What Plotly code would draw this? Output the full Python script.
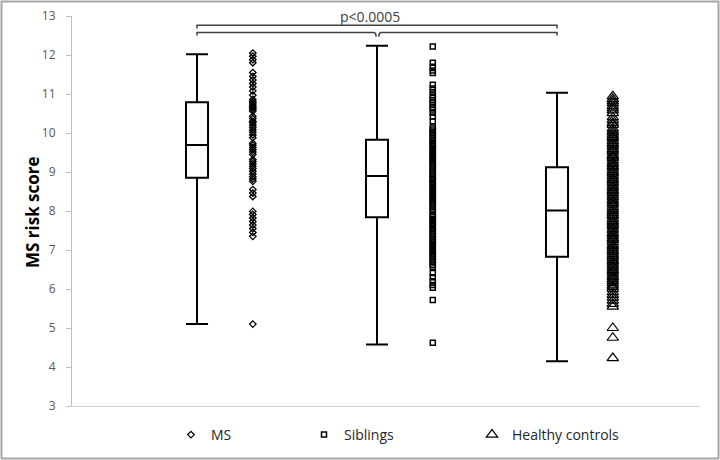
import plotly.graph_objects as go

# ---------------- data ----------------
groups = ["MS", "Siblings", "Healthy controls"]
whisker_high = [12.02, 12.24, 11.03]
q3_vals = [10.79, 9.83, 9.12]
median_vals = [9.69, 8.90, 8.01]
q1_vals = [8.85, 7.84, 6.83]
whisker_low = [5.10, 4.58, 4.15]

ms_scores = [12.05, 11.97, 11.88, 11.8, 11.55, 11.45, 11.36, 11.27, 11.18, 11.08,
             10.97, 10.86, 10.81, 10.77, 10.72, 10.68, 10.64, 10.6, 10.56, 10.43,
             10.37, 10.3, 10.26, 10.2, 10.14, 10.08, 10.02, 9.95, 9.88, 9.74,
             9.69, 9.63, 9.57, 9.51, 9.45, 9.32, 9.27, 9.21, 9.15, 9.09,
             9.02, 8.95, 8.88, 8.82, 8.76, 8.55, 8.46, 8.37, 7.99, 7.91,
             7.82, 7.73, 7.64, 7.55, 7.45, 7.35, 5.1]

sibling_scores = [12.22, 11.8, 11.7, 11.6, 11.54, 11.24, 11.14, 11.05, 10.97, 10.9,
                  10.84, 10.78, 10.72, 10.66, 10.6, 10.52, 10.42, 10.3, 10.14, 10.09,
                  10.04, 9.99, 9.94, 9.88, 9.83, 9.78, 9.72, 9.67, 9.62, 9.57,
                  9.51, 9.46, 9.41, 9.35, 9.3, 9.25, 9.2, 9.14, 9.09, 9.04,
                  8.99, 8.93, 8.88, 8.83, 8.78, 8.72, 8.67, 8.62, 8.57, 8.51,
                  8.46, 8.41, 8.35, 8.3, 8.25, 8.2, 8.14, 8.09, 8.04, 7.99,
                  7.9, 7.85, 7.8, 7.74, 7.69, 7.64, 7.58, 7.53, 7.48, 7.42,
                  7.37, 7.32, 7.26, 7.21, 7.16, 7.1, 7.05, 7.0, 6.94, 6.89,
                  6.84, 6.78, 6.73, 6.68, 6.62, 6.57, 6.41, 6.3, 6.2, 6.1,
                  6.03, 5.72, 4.62]

healthy_scores = [10.94, 10.87, 10.81, 10.76, 10.69, 10.63, 10.58, 10.51, 10.4, 10.33,
                  10.26, 10.21, 10.12, 10.06, 10.01, 9.95, 9.9, 9.86, 9.8, 9.74,
                  9.7, 9.65, 9.59, 9.55, 9.5, 9.44, 9.4, 9.36, 9.3, 9.24,
                  9.2, 9.15, 9.11, 9.05, 9.0, 8.96, 8.9, 8.84, 8.8, 8.75,
                  8.71, 8.65, 8.6, 8.54, 8.5, 8.46, 8.4, 8.35, 8.29, 8.25,
                  8.2, 8.16, 8.1, 8.04, 8.0, 7.95, 7.9, 7.86, 7.8, 7.74,
                  7.7, 7.65, 7.61, 7.55, 7.5, 7.44, 7.4, 7.35, 7.3, 7.26,
                  7.2, 7.14, 7.1, 7.05, 7.0, 6.96, 6.9, 6.85, 6.8, 6.74,
                  6.7, 6.65, 6.6, 6.55, 6.49, 6.45, 6.4, 6.34, 6.3, 6.25,
                  6.2, 6.15, 6.09, 6.05, 6.0, 5.92, 5.85, 5.78, 5.7, 5.62,
                  5.55, 5.0, 4.75, 4.23]

p_label = "p<0.0005"
y_title = "MS risk score"
y_ticks = [3, 4, 5, 6, 7, 8, 9, 10, 11, 12, 13]

# ---------------- layout helpers ----------------
box_pos = [2 * i + 1 for i in range(len(groups))]
scatter_offset = 0.62
box_width = 0.245

fig = go.Figure()

for i, g in enumerate(groups):
    fig.add_trace(go.Box(
        x=[box_pos[i]], q1=[q1_vals[i]], median=[median_vals[i]], q3=[q3_vals[i]],
        lowerfence=[whisker_low[i]], upperfence=[whisker_high[i]],
        width=box_width, whiskerwidth=1,
        fillcolor="white", line=dict(color="black", width=2),
        boxpoints=False, showlegend=False, hoverinfo="skip",
    ))

series = [
    (ms_scores, "diamond-open", 5, 1.3, "legend"),
    (sibling_scores, "square-open", 5, 1.5, "legend2"),
    (healthy_scores, "triangle-up-open", 10, 1.2, "legend3"),
]
for i, (vals, sym, size, lw, leg) in enumerate(series):
    fig.add_trace(go.Scatter(
        x=[box_pos[i] + scatter_offset] * len(vals), y=vals,
        mode="markers", name=groups[i], legend=leg,
        marker=dict(symbol=sym, size=size, color="black", line=dict(width=lw, color="black")),
    ))

# significance brackets
bc = "#404040"
top_y, top_end = 12.76, 12.68
low_y, low_end = 12.58, 12.50
xa, xm, xb = box_pos[0], box_pos[1], box_pos[2]
fig.add_shape(type="path", xref="x", yref="y",
              path=f"M {xa} {top_end} L {xa} {top_y} L {xb} {top_y} L {xb} {top_end}",
              line=dict(color=bc, width=1.5))
fig.add_shape(type="path", xref="x", yref="y",
              path=f"M {xa} {low_end} L {xa} {low_y} L {xm-0.04} {low_y} Q {xm-0.01} {low_y} {xm-0.01} {low_end-0.03}",
              line=dict(color=bc, width=1.5))
fig.add_shape(type="path", xref="x", yref="y",
              path=f"M {xm+0.02} {low_end-0.03} Q {xm+0.02} {low_y} {xm+0.05} {low_y} L {xb} {low_y} L {xb} {low_end}",
              line=dict(color=bc, width=1.5))
fig.add_annotation(x=(xa + xb) / 2 - 0.08, y=12.99, text=p_label, showarrow=False,
                   font=dict(size=14, color="#404040", family="Open Sans"),
                   xref="x", yref="y", yanchor="middle")

L, R, T, B = 72, 20, 16, 54
W, H = 720, 460
pw = W - L - R
ph = H - T - B

def px_x(p):
    return (p - L) / pw

def px_y(p):
    return (H - B - p) / ph

# outer frame
fig.add_shape(type="rect", xref="paper", yref="paper",
              x0=px_x(1.5), x1=px_x(718.5), y0=px_y(458.5), y1=px_y(1.5),
              line=dict(color="#a6a6a6", width=2), layer="below")

# y-axis title
fig.add_annotation(xref="paper", yref="paper", x=px_x(32), y=px_y(212),
                   text=f"<b>{y_title}</b>", textangle=-90, showarrow=False,
                   xanchor="center", yanchor="middle",
                   font=dict(size=17, color="black", family="Open Sans"))

leg_y = px_y(435)
legend_common = dict(orientation="h", yanchor="middle", y=leg_y, xanchor="left",
                     font=dict(size=14, color="#262626", family="Open Sans"),
                     bgcolor="rgba(0,0,0,0)", itemclick=False, itemdoubleclick=False)

fig.update_layout(
    width=W, height=H,
    margin=dict(l=L, r=R, t=T, b=B, autoexpand=False),
    paper_bgcolor="white", plot_bgcolor="white",
    font=dict(family="Open Sans"),
    xaxis=dict(range=[-(197 - 72) / 90 + 1, (700 - 197) / 90 + 1], showline=True,
               linecolor="#d0d0d0", linewidth=1, showticklabels=False, ticks="",
               showgrid=False, zeroline=False, fixedrange=True, automargin=False),
    yaxis=dict(range=[3, 13], tickvals=y_ticks, showline=True, linecolor="#bfbfbf",
               linewidth=1, ticks="outside", ticklen=5, tickcolor="#bfbfbf",
               tickfont=dict(size=12, color="#595959", family="Open Sans"),
               ticklabelstandoff=8, automargin=False,
               showgrid=False, zeroline=False),
    legend=dict(x=px_x(171), **legend_common),
    legend2=dict(x=px_x(304), **legend_common),
    legend3=dict(x=px_x(472), **legend_common),
)

fig.write_html("out.html", config={"displayModeBar": False},
               post_script="document.body.style.margin='0px';")
